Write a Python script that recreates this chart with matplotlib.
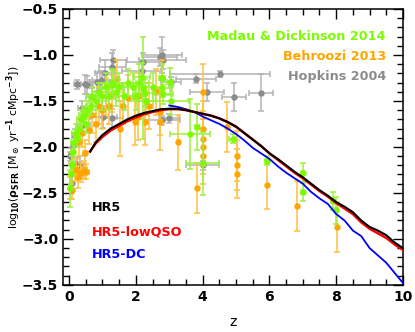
import numpy as np
from matplotlib import pyplot as plt
from matplotlib.ticker import MultipleLocator

plt.rc("font", family="DejaVu Sans", weight="bold", size=10)
plt.rcParams["mathtext.default"] = "bf"

# Hopkins 2004 (z, log SFRD, z err, log err)
hop_z = [0.03, 0.06, 0.08, 0.15, 0.18, 0.25, 0.33, 0.25, 0.38, 0.43, 0.48, 0.53, 0.70, 0.85,
         0.93, 1.00, 1.03, 1.07, 1.30, 1.30, 1.33, 2.18, 2.20, 2.72, 2.78, 2.80, 3.00, 3.05,
         3.80, 4.13, 4.52, 4.94, 5.75, 2.78, 4.00]
hop_y = [-2.10, -2.09, -2.39, -1.98, -1.88, -2.19, -2.20, -1.32, -1.58, -1.76, -1.32, -1.33,
         -1.46, -1.29, -1.29, -1.27, -1.67, -1.20, -1.13, -1.69, -1.05, -1.17, -1.08, -1.02,
         -1.00, -1.05, -1.69, -1.29, -1.26, -1.40, -1.21, -1.46, -1.41, -1.71, -2.20]
hop_zerr = [0.03, 0.05, 0.05, 0.10, 0.10, 0.10, 0.15, 0.10, 0.12, 0.20, 0.20, 0.20, 0.20, 0.25,
            0.30, 0.30, 0.40, 0.30, 0.40, 0.30, 0.40, 0.60, 0.50, 0.50, 0.60, 0.70, 0.30, 0.30,
            0.60, 0.50, 1.50, 0.35, 0.37, 0.55, 0.50]
hop_yerr = [0.05, 0.08, 0.10, 0.08, 0.08, 0.08, 0.10, 0.05, 0.08, 0.10, 0.10, 0.10, 0.10, 0.10,
            0.12, 0.10, 0.12, 0.15, 0.15, 0.10, 0.10, 0.10, 0.10, 0.10, 0.20, 0.10, 0.05, 0.05,
            0.05, 0.10, 0.03, 0.15, 0.20, 0.05, 0.05]

# Behroozi 2013
beh_z = [0.02, 0.05, 0.08, 0.10, 0.20, 0.28, 0.35, 0.45, 0.50, 0.48, 0.30, 0.40, 0.60, 0.70,
         0.80, 0.90, 1.00, 1.10, 1.20, 1.30, 1.43, 1.53, 1.60, 1.77, 1.98, 2.07, 2.10, 2.28,
         2.40, 2.60, 2.72, 2.72, 2.78, 3.27, 3.83, 4.00, 4.00, 4.00, 4.00, 4.00, 4.73, 5.03,
         5.03, 5.03, 5.93, 6.83, 8.02]
beh_y = [-2.45, -2.30, -2.47, -2.20, -2.25, -2.33, -2.28, -2.25, -2.27, -2.07, -1.95, -1.85,
         -1.82, -1.65, -1.75, -1.55, -1.60, -1.45, -1.55, -1.42, -1.26, -1.80, -1.55, -1.47,
         -1.73, -1.68, -1.45, -1.73, -1.55, -1.40, -1.73, -1.62, -1.25, -1.95, -2.45, -1.40,
         -1.80, -1.91, -2.00, -2.10, -1.78, -2.10, -2.20, -2.29, -2.41, -2.64, -2.87]
beh_zerr = [0.00, 0.00, 0.02, 0.05, 0.05, 0.10, 0.10, 0.10, 0.10, 0.05, 0.05, 0.05, 0.05, 0.10,
            0.05, 0.10, 0.05, 0.10, 0.05, 0.10, 0.05, 0.05, 0.05, 0.05, 0.05, 0.05, 0.05, 0.05,
            0.10, 0.05, 0.05, 0.05, 0.05, 0.05, 0.00, 0.00, 0.00, 0.00, 0.00, 0.00, 0.00, 0.00,
            0.00, 0.00, 0.00, 0.00, 0.00]
beh_yerr = [0.12, 0.10, 0.10, 0.10, 0.12, 0.12, 0.10, 0.10, 0.08, 0.15, 0.15, 0.15, 0.15, 0.20,
            0.20, 0.20, 0.20, 0.20, 0.20, 0.20, 0.20, 0.30, 0.20, 0.25, 0.25, 0.25, 0.25, 0.25,
            0.25, 0.25, 0.30, 0.25, 0.20, 0.30, 0.27, 0.30, 0.30, 0.30, 0.30, 0.30, 0.27, 0.27,
            0.27, 0.27, 0.27, 0.27, 0.27]

# Madau & Dickinson 2014
mad_z = [0.03, 0.05, 0.10, 0.12, 0.15, 0.20, 0.25, 0.30, 0.35, 0.45, 0.50, 0.55, 0.65, 0.70,
         0.80, 0.90, 1.00, 1.10, 1.20, 1.30, 1.32, 1.40, 1.50, 1.65, 1.75, 1.90, 2.00, 2.10,
         2.18, 2.20, 2.28, 2.30, 2.50, 2.78, 2.78, 2.80, 3.02, 3.05, 3.62, 3.83, 4.00, 4.90,
         5.93, 7.00, 7.00, 7.90, 8.00]
mad_y = [-2.45, -2.30, -2.20, -2.05, -1.95, -1.85, -1.90, -1.80, -1.70, -1.65, -1.75, -1.60,
         -1.55, -1.45, -1.50, -1.40, -1.45, -1.35, -1.45, -1.30, -1.33, -1.40, -1.35, -1.45,
         -1.30, -1.35, -1.45, -1.30, -1.24, -1.36, -1.41, -1.50, -1.35, -1.25, -1.36, -1.43,
         -1.29, -1.50, -1.86, -1.78, -2.18, -1.91, -2.15, -2.28, -2.49, -2.59, -2.69]
mad_zerr = [0.01, 0.05, 0.05, 0.05, 0.10, 0.10, 0.10, 0.10, 0.10, 0.15, 0.10, 0.15, 0.15, 0.20,
            0.20, 0.20, 0.20, 0.20, 0.20, 0.20, 0.25, 0.25, 0.25, 0.25, 0.25, 0.30, 0.30, 0.30,
            0.25, 0.10, 0.30, 0.30, 0.30, 0.10, 0.30, 0.30, 0.10, 0.55, 0.60, 0.05, 0.50, 0.10,
            0.05, 0.05, 0.05, 0.05, 0.05]
mad_yerr = [0.20, 0.10, 0.10, 0.10, 0.10, 0.10, 0.10, 0.10, 0.10, 0.10, 0.10, 0.10, 0.10, 0.10,
            0.10, 0.10, 0.15, 0.15, 0.15, 0.15, 0.15, 0.15, 0.15, 0.15, 0.15, 0.15, 0.15, 0.20,
            0.15, 0.55, 0.15, 0.15, 0.15, 0.15, 0.10, 0.10, 0.15, 0.15, 0.38, 0.25, 0.34, 0.05,
            0.05, 0.10, 0.10, 0.10, 0.15]

# simulation curves
hr5_z = [0.63, 0.8, 1.0, 1.25, 1.5, 1.75, 2.0, 2.25, 2.5, 2.75, 3.0, 3.25, 3.5, 3.75, 4.0,
         4.25, 4.5, 4.75, 5.0, 5.25, 5.5, 5.75, 6.0, 6.25, 6.5, 6.75, 7.0, 7.25, 7.5, 7.75,
         8.0, 8.25, 8.5, 8.75, 9.0, 9.25, 9.5, 9.75, 10.0]
hr5_y = [-2.05, -1.95, -1.87, -1.80, -1.75, -1.70, -1.66, -1.63, -1.61, -1.59, -1.585, -1.585,
         -1.60, -1.62, -1.64, -1.66, -1.69, -1.73, -1.78, -1.85, -1.92, -1.99, -2.07, -2.13,
         -2.20, -2.27, -2.33, -2.40, -2.47, -2.53, -2.60, -2.65, -2.71, -2.80, -2.87, -2.91,
         -2.96, -3.04, -3.10]
lowqso_z = hr5_z
lowqso_y = [-2.05, -1.96, -1.89, -1.82, -1.77, -1.72, -1.68, -1.645, -1.62, -1.60, -1.59, -1.59,
            -1.60, -1.62, -1.64, -1.66, -1.69, -1.73, -1.78, -1.85, -1.92, -1.99, -2.07, -2.14,
            -2.21, -2.28, -2.34, -2.41, -2.48, -2.54, -2.61, -2.67, -2.73, -2.82, -2.89, -2.94,
            -2.99, -3.06, -3.12]
dc_z = [3.0, 3.25, 3.5, 3.75, 4.0, 4.25, 4.5, 4.75, 5.0, 5.25, 5.5, 5.75, 6.0, 6.25, 6.5,
        6.75, 7.0, 7.25, 7.5, 7.75, 8.0, 8.25, 8.5, 8.75, 9.0, 9.25, 9.5, 9.75, 10.0]
dc_y = [-1.55, -1.565, -1.59, -1.62, -1.67, -1.71, -1.75, -1.80, -1.86, -1.93, -2.01, -2.07,
        -2.13, -2.21, -2.28, -2.34, -2.40, -2.49, -2.56, -2.62, -2.73, -2.80, -2.91, -2.97,
        -3.10, -3.18, -3.26, -3.37, -3.48]

fig = plt.figure(figsize=(4.15, 3.32), dpi=100)
ax = fig.add_axes([0.152, 0.142, 0.819, 0.831])

ax.errorbar(hop_z, hop_y, xerr=hop_zerr, yerr=hop_yerr, fmt="o", ms=3.6, color="#8c8c8c",
            ecolor="#b4b4b4", elinewidth=1.1, capsize=2, capthick=1.1, zorder=2)
ax.errorbar(beh_z, beh_y, xerr=beh_zerr, yerr=beh_yerr, fmt="o", ms=3.6, color="#ffa500",
            ecolor="#ffbf40", elinewidth=1.1, capsize=2, capthick=1.1, zorder=3)
ax.errorbar(mad_z, mad_y, xerr=mad_zerr, yerr=mad_yerr, fmt="o", ms=3.6, color="#7cfc00",
            ecolor="#9cf040", elinewidth=1.1, capsize=2, capthick=1.1, zorder=4)

ax.plot(dc_z, dc_y, color="blue", lw=1.3, zorder=5)
ax.plot(lowqso_z, lowqso_y, color="red", lw=1.8, zorder=6)
ax.plot(hr5_z, hr5_y, color="black", lw=1.5, zorder=7)

fs = 9.2
ax.text(0.95, 0.9, "Madau & Dickinson 2014", color="#7cfc00", ha="right", va="center",
        fontsize=fs, transform=ax.transAxes)
ax.text(0.95, 0.827, "Behroozi 2013", color="#ffa500", ha="right", va="center",
        fontsize=fs, transform=ax.transAxes)
ax.text(0.95, 0.754, "Hopkins 2004", color="#8c8c8c", ha="right", va="center",
        fontsize=fs, transform=ax.transAxes)
ax.text(0.085, 0.279, "HR5", color="black", ha="left", va="center", fontsize=fs,
        transform=ax.transAxes)
ax.text(0.085, 0.192, "HR5-lowQSO", color="red", ha="left", va="center", fontsize=fs,
        transform=ax.transAxes)
ax.text(0.085, 0.109, "HR5-DC", color="blue", ha="left", va="center", fontsize=fs,
        transform=ax.transAxes)

ax.set_xlim(-0.18, 10)
ax.set_ylim(-3.5, -0.5)
ax.xaxis.set_major_locator(MultipleLocator(2))
ax.xaxis.set_minor_locator(MultipleLocator(0.5))
ax.yaxis.set_major_locator(MultipleLocator(0.5))
ax.yaxis.set_minor_locator(MultipleLocator(0.1))
ax.tick_params(which="both", direction="in", top=True, right=True, width=1)
ax.tick_params(which="major", length=7)
ax.tick_params(which="minor", length=4)
for s in ax.spines.values():
    s.set_linewidth(1.1)

ax.set_xlabel("z", labelpad=8)
ax.set_ylabel(r"log$_{10}$($\rho_{\rm SFR}$ [M$_\odot$ yr$^{-1}$ cMpc$^{-3}$])",
              fontsize=7.8, va="center")
ax.yaxis.set_label_coords(-0.145, 0.5)

plt.savefig("out.png", dpi=100)
